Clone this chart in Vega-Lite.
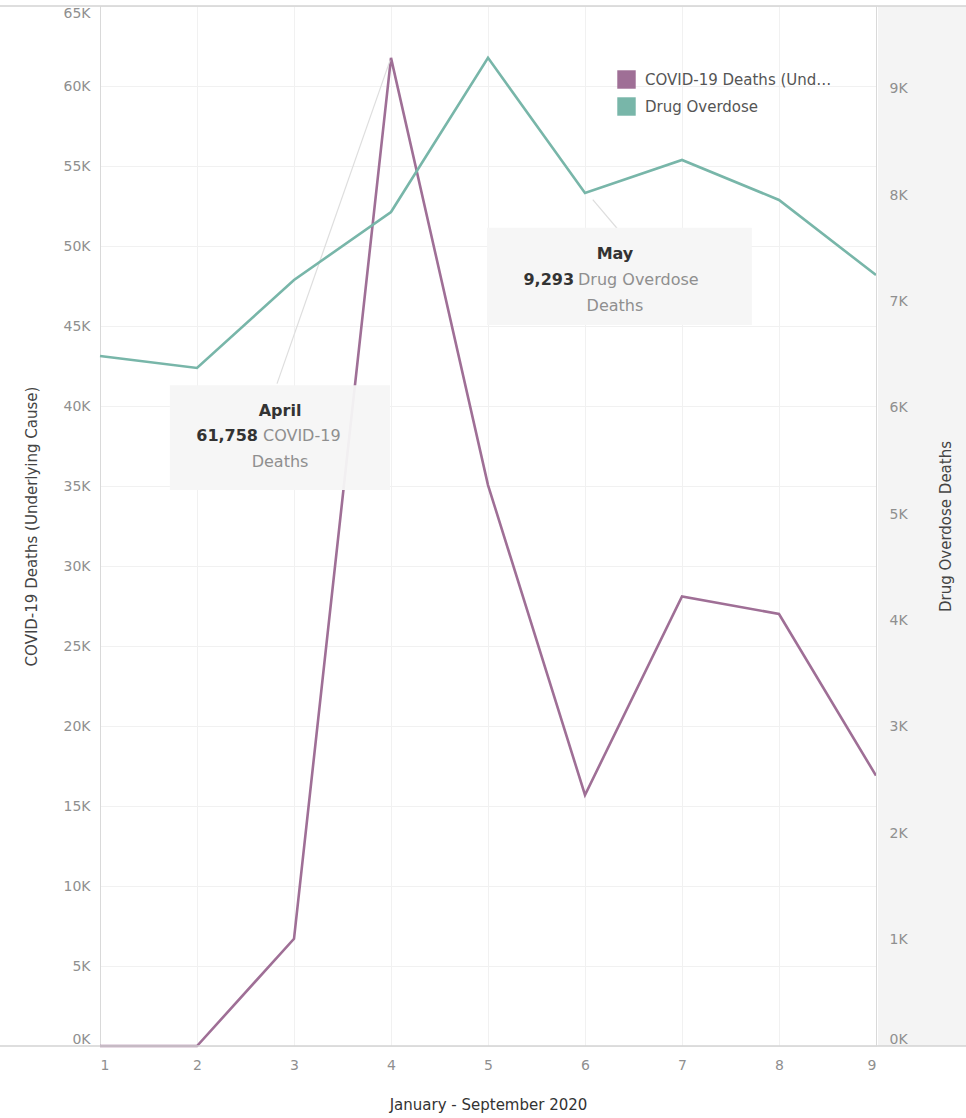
{
  "$schema": "https://vega.github.io/schema/vega-lite/v6.json",
  "width": 776,
  "height": 1040,
  "autosize": {"type": "none"},
  "padding": {"left": 100, "top": 6, "right": 90, "bottom": 72},
  "background": "white",
  "config": {
    "view": {"stroke": null},
    "font": "DejaVu Sans",
    "axis": {
      "labelColor": "#8f8f8f",
      "labelFontSize": 14,
      "titleColor": "#444444",
      "titleFontSize": 15,
      "titleFontWeight": "normal",
      "ticks": false,
      "domainColor": "#d9d9d9",
      "gridColor": "#f1f1f1"
    }
  },
  "datasets": {
    "deaths": [
      {"month": 1, "series": "COVID-19 Deaths (Underlying Cause)", "deaths": 0},
      {"month": 2, "series": "COVID-19 Deaths (Underlying Cause)", "deaths": 0},
      {"month": 3, "series": "COVID-19 Deaths (Underlying Cause)", "deaths": 6700},
      {"month": 4, "series": "COVID-19 Deaths (Underlying Cause)", "deaths": 61758},
      {"month": 5, "series": "COVID-19 Deaths (Underlying Cause)", "deaths": 35060},
      {"month": 6, "series": "COVID-19 Deaths (Underlying Cause)", "deaths": 15690},
      {"month": 7, "series": "COVID-19 Deaths (Underlying Cause)", "deaths": 28100},
      {"month": 8, "series": "COVID-19 Deaths (Underlying Cause)", "deaths": 27000},
      {"month": 9, "series": "COVID-19 Deaths (Underlying Cause)", "deaths": 16900},
      {"month": 1, "series": "Drug Overdose", "deaths": 6489},
      {"month": 2, "series": "Drug Overdose", "deaths": 6376},
      {"month": 3, "series": "Drug Overdose", "deaths": 7203},
      {"month": 4, "series": "Drug Overdose", "deaths": 7843},
      {"month": 5, "series": "Drug Overdose", "deaths": 9293},
      {"month": 6, "series": "Drug Overdose", "deaths": 8021},
      {"month": 7, "series": "Drug Overdose", "deaths": 8332},
      {"month": 8, "series": "Drug Overdose", "deaths": 7956},
      {"month": 9, "series": "Drug Overdose", "deaths": 7250}
    ],
    "left_notes": [
      {"kind": "panel", "month": 9.02, "month_end": 10.3},
      {"kind": "frame", "month": -0.2, "month_end": 10.3, "deaths": 65000},
      {"kind": "frame", "month": -0.2, "month_end": 10.3, "deaths": 0},
      {"kind": "leader", "month": 2.825, "month_end": 3.99, "deaths": 41400, "deaths_end": 61600},
      {"kind": "box", "month": 1.72, "month_end": 3.99, "deaths": 41300, "deaths_end": 34750},
      {"kind": "head", "text": "April", "month": 2.856, "deaths": 39690},
      {"kind": "number", "text": "61,758", "month": 2.629, "deaths": 38125},
      {"kind": "label", "text": "COVID-19", "month": 2.68, "deaths": 38125},
      {"kind": "tail", "text": "Deaths", "month": 2.856, "deaths": 36500}
    ],
    "right_notes": [
      {"kind": "leader", "month": 6.08, "month_end": 6.33, "deaths": 7960, "deaths_end": 7690},
      {"kind": "box", "month": 4.99, "month_end": 7.72, "deaths": 7695, "deaths_end": 6780},
      {"kind": "head", "text": "May", "month": 6.309, "deaths": 7450},
      {"kind": "number", "text": "9,293", "month": 5.887, "deaths": 7206},
      {"kind": "label", "text": "Drug Overdose", "month": 5.928, "deaths": 7206},
      {"kind": "tail", "text": "Deaths", "month": 6.309, "deaths": 6960}
    ]
  },
  "data": {"name": "deaths"},
  "encoding": {
    "x": {
      "field": "month",
      "type": "quantitative",
      "scale": {"domain": [1, 9], "nice": false, "zero": false},
      "axis": {
        "values": [1, 2, 3, 4, 5, 6, 7, 8, 9],
        "format": "d",
        "title": "January - September 2020",
        "titleColor": "#333333",
        "labelPadding": 12,
        "titlePadding": 25,
        "domain": false,
        "grid": true
      }
    }
  },
  "layer": [
    {
      "layer": [
        {
          "data": {"name": "left_notes"},
          "transform": [{"filter": "datum.kind === 'panel'"}],
          "mark": {"type": "rect", "fill": "#f4f4f4", "clip": false},
          "encoding": {"x2": {"field": "month_end"}}
        },
        {
          "transform": [{"filter": "datum.series === 'COVID-19 Deaths (Underlying Cause)'"}],
          "mark": {"type": "line", "strokeWidth": 2.6},
          "encoding": {
            "y": {
              "field": "deaths",
              "type": "quantitative",
              "scale": {"domain": [0, 65000], "nice": false},
              "axis": {
                "orient": "left",
                "title": "COVID-19 Deaths (Underlying Cause)",
                "values": [0, 5000, 10000, 15000, 20000, 25000, 30000, 35000, 40000, 45000, 50000, 55000, 60000, 65000],
                "labelExpr": "format(datum.value / 1000, 'd') + 'K'",
                "labelFlush": true,
                "labelPadding": 10,
                "titlePadding": 24,
                "grid": true
              }
            },
            "color": {
              "field": "series",
              "type": "nominal",
              "scale": {
                "domain": ["COVID-19 Deaths (Underlying Cause)", "Drug Overdose"],
                "range": ["#9f6f96", "#78b6a9"]
              },
              "legend": {
                "title": null,
                "orient": "none",
                "legendX": 517,
                "legendY": 64,
                "padding": 0,
                "symbolType": "square",
                "symbolSize": 340,
                "symbolStrokeWidth": 0,
                "labelFontSize": 15,
                "labelColor": "#555555",
                "labelLimit": 192,
                "labelOffset": 9,
                "rowPadding": 8,
                "encode": {
                  "symbols": {"update": {"fill": {"scale": "color", "field": "value"}, "fillOpacity": {"value": 1}}}
                }
              }
            }
          }
        },
        {
          "data": {"name": "left_notes"},
          "transform": [{"filter": "datum.kind === 'leader'"}],
          "mark": {"type": "rule", "color": "#dedede", "strokeWidth": 1.2},
          "encoding": {"x2": {"field": "month_end"}, "y": {"field": "deaths", "type": "quantitative"}, "y2": {"field": "deaths_end"}}
        },
        {
          "data": {"name": "left_notes"},
          "transform": [{"filter": "datum.kind === 'box'"}],
          "mark": {"type": "rect", "fill": "#f5f5f5", "opacity": 0.95},
          "encoding": {"x2": {"field": "month_end"}, "y": {"field": "deaths", "type": "quantitative"}, "y2": {"field": "deaths_end"}}
        },
        {
          "data": {"name": "left_notes"},
          "transform": [{"filter": "datum.kind === 'head'"}],
          "mark": {"type": "text", "fontSize": 16, "fontWeight": "bold", "color": "#333333", "align": "center", "baseline": "middle"},
          "encoding": {"y": {"field": "deaths", "type": "quantitative"}, "text": {"field": "text"}}
        },
        {
          "data": {"name": "left_notes"},
          "transform": [{"filter": "datum.kind === 'number'"}],
          "mark": {"type": "text", "fontSize": 16, "fontWeight": "bold", "color": "#333333", "align": "right", "baseline": "middle"},
          "encoding": {"y": {"field": "deaths", "type": "quantitative"}, "text": {"field": "text"}}
        },
        {
          "data": {"name": "left_notes"},
          "transform": [{"filter": "datum.kind === 'label'"}],
          "mark": {"type": "text", "fontSize": 16, "color": "#8f8f8f", "align": "left", "baseline": "middle"},
          "encoding": {"y": {"field": "deaths", "type": "quantitative"}, "text": {"field": "text"}}
        },
        {
          "data": {"name": "left_notes"},
          "transform": [{"filter": "datum.kind === 'tail'"}],
          "mark": {"type": "text", "fontSize": 16, "color": "#8f8f8f", "align": "center", "baseline": "middle"},
          "encoding": {"y": {"field": "deaths", "type": "quantitative"}, "text": {"field": "text"}}
        },
        {
          "data": {"name": "left_notes"},
          "transform": [{"filter": "datum.kind === 'frame'"}],
          "mark": {"type": "rule", "color": "#d3d3d3", "strokeWidth": 1.3, "clip": false},
          "encoding": {"x2": {"field": "month_end"}, "y": {"field": "deaths", "type": "quantitative"}}
        }
      ]
    },
    {
      "layer": [
        {
          "transform": [{"filter": "datum.series === 'Drug Overdose'"}],
          "mark": {"type": "line", "strokeWidth": 2.6},
          "encoding": {
            "y": {
              "field": "deaths",
              "type": "quantitative",
              "scale": {"domain": [0, 9780], "nice": false},
              "axis": {
                "orient": "right",
                "title": "Drug Overdose Deaths",
                "titleAngle": 270,
                "values": [0, 1000, 2000, 3000, 4000, 5000, 6000, 7000, 8000, 9000],
                "labelExpr": "format(datum.value / 1000, 'd') + 'K'",
                "labelFlush": true,
                "labelPadding": 13,
                "titlePadding": 46,
                "grid": false,
                "zindex": 1
              }
            },
            "color": {"field": "series", "type": "nominal"}
          }
        },
        {
          "data": {"name": "right_notes"},
          "transform": [{"filter": "datum.kind === 'leader'"}],
          "mark": {"type": "rule", "color": "#dedede", "strokeWidth": 1.2},
          "encoding": {"x2": {"field": "month_end"}, "y": {"field": "deaths", "type": "quantitative"}, "y2": {"field": "deaths_end"}}
        },
        {
          "data": {"name": "right_notes"},
          "transform": [{"filter": "datum.kind === 'box'"}],
          "mark": {"type": "rect", "fill": "#f5f5f5", "opacity": 0.95},
          "encoding": {"x2": {"field": "month_end"}, "y": {"field": "deaths", "type": "quantitative"}, "y2": {"field": "deaths_end"}}
        },
        {
          "data": {"name": "right_notes"},
          "transform": [{"filter": "datum.kind === 'head'"}],
          "mark": {"type": "text", "fontSize": 16, "fontWeight": "bold", "color": "#333333", "align": "center", "baseline": "middle"},
          "encoding": {"y": {"field": "deaths", "type": "quantitative"}, "text": {"field": "text"}}
        },
        {
          "data": {"name": "right_notes"},
          "transform": [{"filter": "datum.kind === 'number'"}],
          "mark": {"type": "text", "fontSize": 16, "fontWeight": "bold", "color": "#333333", "align": "right", "baseline": "middle"},
          "encoding": {"y": {"field": "deaths", "type": "quantitative"}, "text": {"field": "text"}}
        },
        {
          "data": {"name": "right_notes"},
          "transform": [{"filter": "datum.kind === 'label'"}],
          "mark": {"type": "text", "fontSize": 16, "color": "#8f8f8f", "align": "left", "baseline": "middle"},
          "encoding": {"y": {"field": "deaths", "type": "quantitative"}, "text": {"field": "text"}}
        },
        {
          "data": {"name": "right_notes"},
          "transform": [{"filter": "datum.kind === 'tail'"}],
          "mark": {"type": "text", "fontSize": 16, "color": "#8f8f8f", "align": "center", "baseline": "middle"},
          "encoding": {"y": {"field": "deaths", "type": "quantitative"}, "text": {"field": "text"}}
        }
      ]
    }
  ],
  "resolve": {"scale": {"y": "independent"}}
}
